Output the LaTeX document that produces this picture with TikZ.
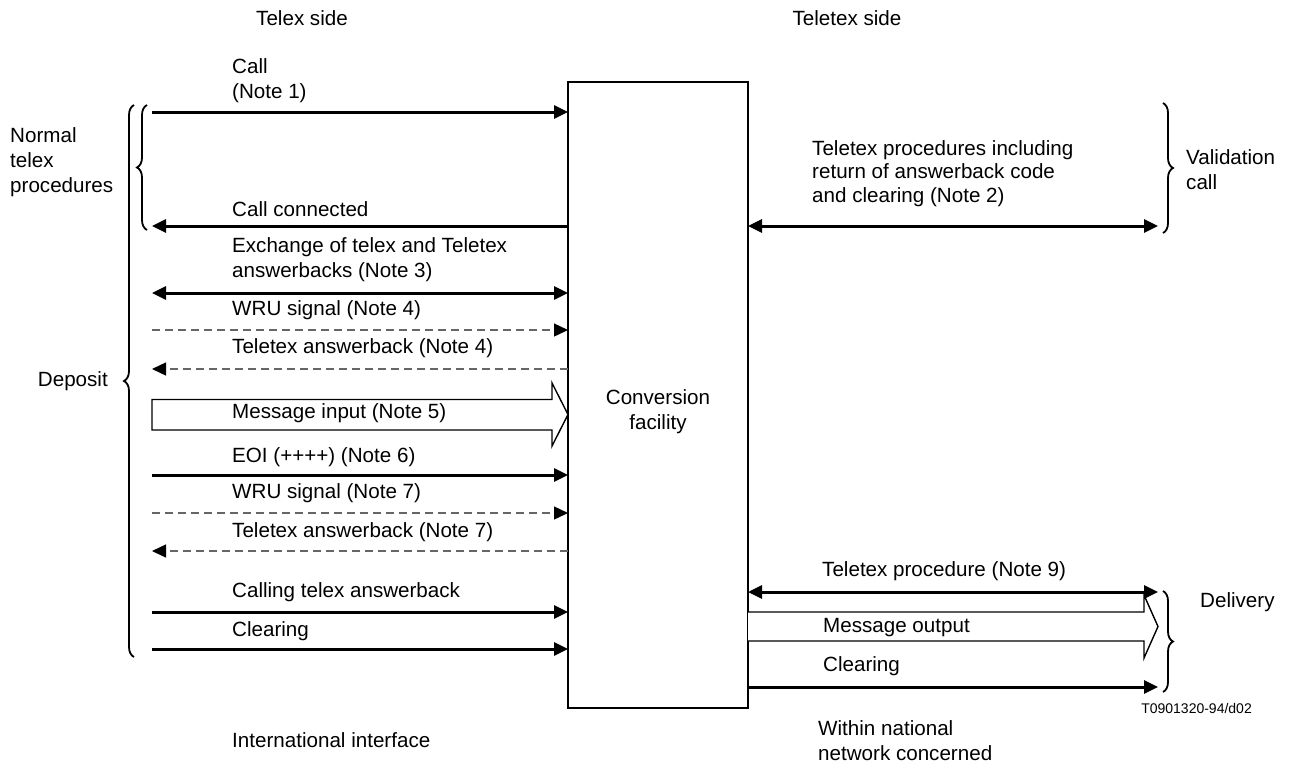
\documentclass[tikz,border=0pt]{standalone}
\usepackage{fontspec}
\setmainfont{Liberation Sans}
\usetikzlibrary{arrows.meta,decorations.pathreplacing}
\begin{document}
\begin{tikzpicture}[x=1pt,y=-1pt,
  lbl/.style={anchor=west,inner sep=0pt,align=left,font=\fontsize{20.6}{25}\selectfont},
  tipA/.tip={Triangle[length=14pt,width=13pt,color=black]},
  arr/.style={line width=3pt,-tipA},
  darr/.style={line width=3pt,tipA-tipA},
  dsh/.style={line width=1.3pt,draw=black!60,dash pattern=on 8pt off 5pt},
  hollow/.style={line width=1.4pt,fill=white,line join=miter},
  brc/.style={line width=1.8pt,decorate,decoration={brace,amplitude=10pt}},
  box/.style={draw,line width=2.2pt,minimum width=180pt,minimum height=626pt,inner sep=0pt,outer sep=0pt}
]
\useasboundingbox (0,0) rectangle (1303,777);

% central box
\node[box] (conv) at (658,395) {};
\node[font=\fontsize{20.6}{25}\selectfont,align=center,inner sep=0pt] (convt) at (658,411.5) {Conversion\\facility};

% headings
\node[font=\fontsize{20.6}{25}\selectfont,inner sep=0pt] (telex) at (302,18) {Telex side};
\node[font=\fontsize{20.6}{25}\selectfont,inner sep=0pt] (teletex) at (847,18) {Teletex side};

% left coordinates
\coordinate (a1) at (152,112);
\coordinate (a2) at (152,226);
\coordinate (a3) at (152,293);
\coordinate (a4) at (152,330);
\coordinate (a5) at (152,369);
\coordinate (a7) at (152,475);
\coordinate (a8) at (152,513);
\coordinate (a9) at (152,551);
\coordinate (a10) at (152,612);
\coordinate (a11) at (152,649);

\draw[arr] (a1) -- (a1 -| conv.west);
\draw[arr] (a2 -| conv.west) -- (a2);
\draw[darr] (a3) -- (a3 -| conv.west);
\draw[dsh,-tipA] (a4) -- (a4 -| conv.west);
\draw[dsh,-tipA] (a5 -| conv.west) -- (a5);
\draw[arr] (a7) -- (a7 -| conv.west);
\draw[dsh,-tipA] (a8) -- (a8 -| conv.west);
\draw[dsh,-tipA] (a9 -| conv.west) -- (a9);
\draw[arr] (a10) -- (a10 -| conv.west);
\draw[arr] (a11) -- (a11 -| conv.west);

% hollow arrow: message input
\draw[hollow] (152,399.5) -- (552,399.5) -- (552,383) -- (conv.west |- 0,414.5) -- (552,446) -- (552,430) -- (152,430) -- cycle;

% left labels
\node[lbl] (t1) at (232,80.5) {Call\\(Note 1)};
\node[lbl] (t2) at (232,209) {Call connected};
\node[lbl] (t3) at (232,259.5) {Exchange of telex and Teletex\\answerbacks (Note 3)};
\node[lbl] (t4) at (232,310) {WRU signal (Note 4)};
\node[lbl] (t5) at (232,348) {Teletex answerback (Note 4)};
\node[lbl] (t6) at (232,413) {Message input (Note 5)};
\node[lbl] (t7) at (232,457) {EOI (++++) (Note 6)};
\node[lbl] (t8) at (232,493) {WRU signal (Note 7)};
\node[lbl] (t9) at (232,532) {Teletex answerback (Note 7)};
\node[lbl] (t10) at (232,592) {Calling telex answerback};
\node[lbl] (t11) at (232,631) {Clearing};

% braces left
\draw[brc] (134,657) -- (134,105);
\draw[brc] (147,230) -- (147,105);
\node[lbl] (normal) at (10,162) {Normal\\telex\\procedures};
\node[anchor=east,inner sep=0pt,font=\fontsize{20.6}{25}\selectfont] (deposit) at (108,381) {Deposit};

% right side
\coordinate (b1) at (1158,226);
\coordinate (b2) at (1158,592);
\coordinate (b3) at (1158,687);
\draw[darr] (b1 -| conv.east) -- (b1);
\draw[darr] (b2 -| conv.east) -- (b2);
\draw[arr] (b3 -| conv.east) -- (b3);
\draw[hollow] (conv.east |- 0,612) -- (1144,612) -- (1144,595) -- (1158,626.5) -- (1144,658) -- (1144,641) -- (conv.east |- 0,641);

\node[lbl,font=\fontsize{20.6}{23.5}\selectfont] (r1) at (812,173.5) {Teletex procedures including\\return of answerback code\\and clearing (Note 2)};
\node[lbl] (r2) at (822,571) {Teletex procedure (Note 9)};
\node[lbl] (r3) at (823,628) {Message output};
\node[lbl] (r4) at (823,666) {Clearing};

\draw[brc] (1163,103) -- (1163,233);
\draw[brc] (1163,591) -- (1163,692);
\node[lbl] (valid) at (1186,169.5) {Validation\\call};
\node[lbl] (deliv) at (1200,602) {Delivery};

% bottom
\node[lbl] (intl) at (232,740) {International interface};
\node[lbl] (natl) at (818,741) {Within national\\network concerned};
\node[anchor=east,inner sep=0pt,font=\fontsize{14}{16}\selectfont] (ref) at (1252,708) {T0901320-94/d02};
\end{tikzpicture}
\end{document}
